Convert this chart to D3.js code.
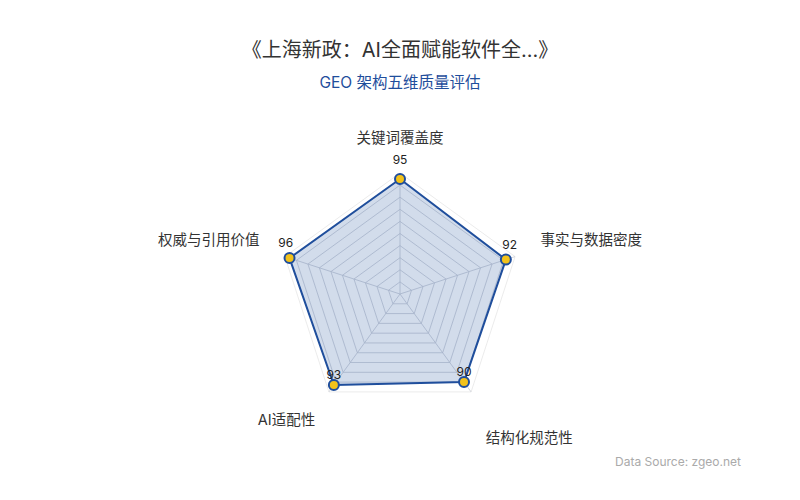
<!DOCTYPE html>
<html>
<head>
<meta charset="utf-8">
<script src="https://cdn.jsdelivr.net/npm/d3@7"></script>
<style>
  body { margin: 0; background: #fff; }
  svg { display: block; font-family: Inter, "Noto Sans CJK SC", sans-serif; }
</style>
</head>
<body>
<svg width="800" height="500"></svg>
<script>
var titleText = '《上海新政：AI全面赋能软件全...》';
var subtitleText = 'GEO 架构五维质量评估';
var sourceText = 'Data Source: zgeo.net';

var axes = ['关键词覆盖度', '事实与数据密度', '结构化规范性', 'AI适配性', '权威与引用价值'];
var scores = [95, 92, 90, 93, 96];
var levels = d3.range(1, 11).map(function (i) { return i * 10; });

var svg = d3.select('svg'),
    width = 800,
    cx = 400,
    cy = 294,
    R = 121;

var r = d3.scaleLinear().domain([0, 100]).range([0, R]);
var angle = d3.scaleLinear().domain([0, axes.length]).range([0, 2 * Math.PI]);

function pt(i, v) {
    var a = angle(i);
    return [cx + r(v) * Math.sin(a), cy - r(v) * Math.cos(a)];
}

// titles
svg.append('text')
    .attr('x', width / 2).attr('y', 57)
    .attr('text-anchor', 'middle')
    .attr('font-size', 20)
    .attr('fill', '#333')
    .text(titleText);

svg.append('text')
    .attr('x', width / 2).attr('y', 88)
    .attr('text-anchor', 'middle')
    .attr('font-size', 15.5)
    .attr('fill', '#1f4e9c')
    .text(subtitleText);

// grid rings
var g = svg.append('g');
g.selectAll('.ring')
    .data(levels)
    .enter().append('polygon')
    .attr('points', function (lv) {
        return axes.map(function (d, i) { return pt(i, lv).join(','); }).join(' ');
    })
    .attr('fill', 'none')
    .attr('stroke', function (lv) { return lv === 100 ? '#e6e6e6' : '#c8ccd6'; })
    .attr('stroke-width', 0.8);

// spokes
g.selectAll('.spoke')
    .data(axes)
    .enter().append('line')
    .attr('x1', cx).attr('y1', cy)
    .attr('x2', function (d, i) { return pt(i, 100)[0]; })
    .attr('y2', function (d, i) { return pt(i, 100)[1]; })
    .attr('stroke', '#c8ccd6')
    .attr('stroke-width', 0.8);

// data area
var line = d3.line().curve(d3.curveLinearClosed);
var area = scores.map(function (v, i) { return pt(i, v); });

g.append('path')
    .attr('d', line(area))
    .attr('fill', 'rgba(31,78,156,0.2)')
    .attr('stroke', '#1f4e9c')
    .attr('stroke-width', 2)
    .attr('stroke-linejoin', 'round');

g.selectAll('.dot')
    .data(scores)
    .enter().append('circle')
    .attr('cx', function (d, i) { return pt(i, d)[0]; })
    .attr('cy', function (d, i) { return pt(i, d)[1]; })
    .attr('r', 5)
    .attr('fill', '#f2c21b')
    .attr('stroke', '#1f4e9c')
    .attr('stroke-width', 2);

// value labels
g.selectAll('.val')
    .data(scores)
    .enter().append('text')
    .attr('x', function (d, i) {
        var p = pt(i, d), s = Math.sin(angle(i));
        return p[0] + (Math.abs(s) > 0.9 ? s * 4 : 0);
    })
    .attr('y', function (d, i) {
        var p = pt(i, d), c = Math.cos(angle(i));
        return p[1] + (c > 0.9 ? -15 : (c > -0.5 ? -11 : -6));
    })
    .attr('text-anchor', 'middle')
    .attr('font-size', 12)
    .attr('fill', '#222')
    .text(function (d) { return d; });

// axis names
function namePos(i) {
    var s = Math.sin(angle(i)), c = Math.cos(angle(i));
    if (Math.abs(s) > 0.9) { var p = pt(i, 122); return [p[0], p[1] - 3]; }
    var q = pt(i, 129);
    if (c < -0.5 && s > 0) return [q[0] - 6, q[1] + 23];
    if (c < -0.5 && s < 0) return [q[0] + 7, q[1] + 5];
    return [q[0], q[1] + 5];
}

g.selectAll('.name')
    .data(axes)
    .enter().append('text')
    .attr('x', function (d, i) { return namePos(i)[0]; })
    .attr('y', function (d, i) { return namePos(i)[1]; })
    .attr('text-anchor', function (d, i) {
        var s = Math.sin(angle(i));
        return s > 0.01 ? 'start' : (s < -0.01 ? 'end' : 'middle');
    })
    .attr('font-size', 14.5)
    .attr('fill', '#333')
    .text(function (d) { return d; });

// source
svg.append('text')
    .attr('x', 741).attr('y', 466)
    .attr('text-anchor', 'end')
    .attr('font-size', 12)
    .attr('fill', '#aaa')
    .text(sourceText);
</script>
</body>
</html>
